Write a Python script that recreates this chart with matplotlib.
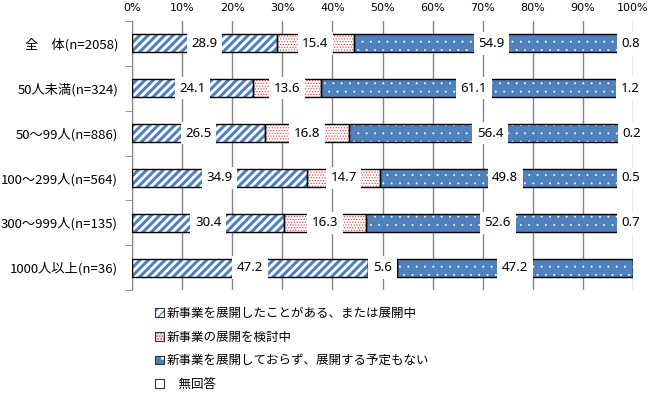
import matplotlib
matplotlib.use("Agg")
import matplotlib.pyplot as plt
from matplotlib.patches import Patch
import numpy as np

plt.rcParams['font.family'] = ['Noto Sans CJK JP', 'DejaVu Sans']

categories = ['全　体(n=2058)', '50人未満(n=324)', '50～99人(n=886)',
              '100～299人(n=564)', '300～999人(n=135)', '1000人以上(n=36)']
series = ['新事業を展開したことがある、または展開中',
          '新事業の展開を検討中',
          '新事業を展開しておらず、展開する予定もない',
          '　無回答']
developed = [28.9, 24.1, 26.5, 34.9, 30.4, 47.2]
considering = [15.4, 13.6, 16.8, 14.7, 16.3, 5.6]
not_planned = [54.9, 61.1, 56.4, 49.8, 52.6, 47.2]
no_answer = [0.8, 1.2, 0.2, 0.5, 0.7, 0.0]

# face colour, hatch colour, hatch pattern, hatch linewidth
styles = [('white', '#4F81BD', '////', 2.2),
          ('white', '#E03C3C', '......', 0.5),
          ('#4F81BD', 'white', '..', 0.2),
          ('white', 'white', '', 1.0)]

fig = plt.figure(figsize=(6.5, 3.95), dpi=100)
ax = fig.add_axes([132 / 650, 1 - 290 / 395, 501 / 650, 269 / 395])


def hatch_patch(p, lw):
    if hasattr(p, 'set_hatch_linewidth'):
        p.set_hatch_linewidth(lw)


y = np.arange(len(categories))
left = np.zeros(len(categories))
handles = []
for vals, (fc, hc, h, hlw), name in zip([developed, considering, not_planned, no_answer], styles, series):
    vals = np.array(vals)
    plt.rcParams['hatch.linewidth'] = hlw
    b1 = ax.barh(y, vals, left=left, height=0.4, color=fc, edgecolor=hc,
                 hatch=h, linewidth=0, zorder=2)
    for p in b1:
        hatch_patch(p, hlw)
    ax.barh(y, vals, left=left, height=0.4, color='none', edgecolor='black',
            linewidth=1.0, zorder=3)
    for yi, l, v in zip(y, left, vals):
        if v > 0:
            ax.text(l + v / 2, yi, f'{v:.1f}', ha='center', va='center',
                    fontsize=9.5, family=['Noto Sans', 'DejaVu Sans'], zorder=4,
                    bbox=dict(boxstyle='square,pad=0.35', fc='white', ec='none'))
    left = left + vals
    hp = Patch(facecolor=fc, edgecolor=hc, hatch=h, linewidth=0)
    hatch_patch(hp, hlw)
    handles.append((hp, Patch(facecolor='none', edgecolor='#333333', linewidth=0.8)))

ax.set_xlim(0, 100)
ax.set_ylim(len(categories) - 0.5, -0.5)
ax.set_xticks(np.arange(0, 101, 10))
ax.set_xticklabels([f'{t}%' for t in range(0, 101, 10)],
                   family=['DejaVu Sans'], fontsize=8)
ax.xaxis.tick_top()
ax.tick_params(axis='x', length=0, pad=6)
ax.grid(axis='x', color='#868686', linewidth=1.0, zorder=1)
ax.set_axisbelow(True)

ax.set_yticks(y)
ax.set_yticklabels(categories, fontsize=9.5)
ax.set_yticks(np.arange(-0.5, len(categories)), minor=True)
ax.tick_params(axis='y', which='major', length=0, pad=10)
ax.tick_params(axis='y', which='minor', length=5, color='#868686')

for s in ['top', 'right', 'bottom']:
    ax.spines[s].set_visible(False)
ax.spines['left'].set_color('#868686')

fig.legend(handles, series, loc='upper left', bbox_to_anchor=(150 / 650, 1 - 302 / 395),
           frameon=False, fontsize=9, handlelength=0.7, handleheight=0.7,
           handletextpad=0.2, labelspacing=0.85, borderaxespad=0)

fig.savefig('out.png', dpi=100)
